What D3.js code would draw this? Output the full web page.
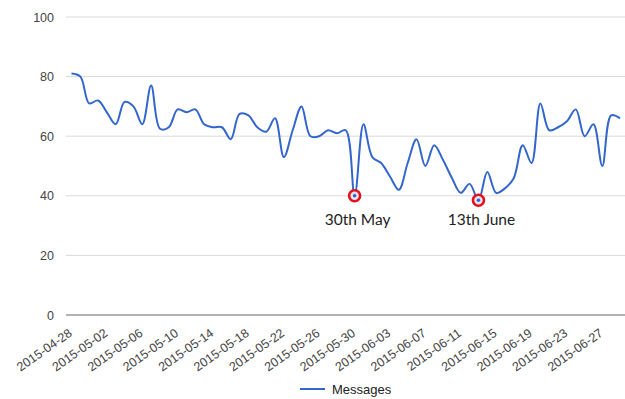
<!DOCTYPE html>
<html>
<head>
<meta charset="utf-8">
<script src="https://cdn.jsdelivr.net/npm/d3@7"></script>
<style>
  html, body { margin: 0; padding: 0; background: #fff; }
  svg { display: block; }
</style>
</head>
<body>
<svg id="chart" width="625" height="399"></svg>
<script>
// Daily message counts, starting 2015-04-28
const startDate = "2015-04-28";
const messages = [
  81, 80, 71, 72, 68, 64, 71.5, 70, 64, 77,
  62.5, 63, 69, 68, 69, 64, 63, 63, 59, 67.5,
  67, 63, 61.5, 66, 53, 62, 70, 60, 60, 62,
  61, 62, 40, 64, 53, 51, 46.5, 42, 51, 59,
  50, 57, 52, 46, 41, 44, 38.5, 48, 41, 42.5,
  46, 57, 51, 71, 62, 63, 65, 69, 60, 64,
  50, 67, 66
];
const tickLabels = [
  "2015-04-28", "2015-05-02", "2015-05-06", "2015-05-10", "2015-05-14",
  "2015-05-18", "2015-05-22", "2015-05-26", "2015-05-30", "2015-06-03",
  "2015-06-07", "2015-06-11", "2015-06-15", "2015-06-19", "2015-06-23",
  "2015-06-27"
];
const yTicks = [0, 20, 40, 60, 80, 100];
const annotations = [
  { date: "2015-05-30", text: "30th May" },
  { date: "2015-06-13", text: "13th June" }
];
const seriesName = "Messages";

const parse = d3.utcParse("%Y-%m-%d");
const t0 = parse(startDate);
const data = messages.map((v, i) => ({ date: d3.utcDay.offset(t0, i), value: v }));
const byTime = new Map(data.map(d => [+d.date, d]));

const svg = d3.select("#chart");
const plotLeft = 66, plotRight = 625, plotTop = 17, plotBottom = 315;

const x = d3.scaleUtc()
  .domain(d3.extent(data, d => d.date))
  .range([71.5, 620]);
const y = d3.scaleLinear().domain([0, 100]).range([plotBottom, plotTop]);

const font = "Arial, 'Liberation Sans', sans-serif";

// horizontal gridlines
svg.append("g")
  .selectAll("line")
  .data(yTicks.filter(v => v !== 0))
  .join("line")
  .attr("x1", plotLeft).attr("x2", plotRight)
  .attr("y1", d => y(d)).attr("y2", d => y(d))
  .attr("stroke", "#d9d9d9").attr("stroke-width", 1);

// y axis labels
const yAxis = d3.axisLeft(y).tickValues(yTicks).tickSize(0).tickPadding(12);
const gy = svg.append("g").attr("transform", `translate(${plotLeft},0)`).call(yAxis);
gy.select(".domain").remove();
gy.selectAll("text")
  .attr("font-family", font).attr("font-size", 12.5).attr("fill", "#444");

// baseline
svg.append("line")
  .attr("x1", plotLeft).attr("x2", plotRight)
  .attr("y1", y(0)).attr("y2", y(0))
  .attr("stroke", "#666").attr("stroke-width", 1.2);

// x axis: rotated date labels
const xAxis = d3.axisBottom(x)
  .tickValues(tickLabels.map(parse))
  .tickSize(0)
  .tickFormat(d3.utcFormat("%Y-%m-%d"));
const gx = svg.append("g").attr("transform", `translate(0,${plotBottom})`).call(xAxis);
gx.select(".domain").remove();
gx.selectAll("text")
  .attr("font-family", font).attr("font-size", 12.5).attr("fill", "#444")
  .attr("text-anchor", "end")
  .attr("dy", 0)
  .attr("y", 0)
  .attr("transform", "translate(1,20) rotate(-35)");

// series line
const line = d3.line()
  .x(d => x(d.date))
  .y(d => y(d.value))
  .curve(d3.curveCatmullRom.alpha(0.5));

svg.append("path")
  .datum(data)
  .attr("fill", "none")
  .attr("stroke", "#3366cc")
  .attr("stroke-width", 2)
  .attr("stroke-linejoin", "round")
  .attr("d", line);

// annotated low points
const ann = svg.append("g");
annotations.forEach(a => {
  const d = byTime.get(+parse(a.date));
  const cx = x(d.date), cy = y(d.value);
  ann.append("circle")
    .attr("cx", cx).attr("cy", cy).attr("r", 5.5)
    .attr("fill", "#e9e4f2").attr("fill-opacity", 0.9)
    .attr("stroke", "#e3121b").attr("stroke-width", 2.6);
  ann.append("circle")
    .attr("cx", cx).attr("cy", cy).attr("r", 1.8)
    .attr("fill", "#3366cc");
  ann.append("text")
    .attr("x", cx + 3).attr("y", 225)
    .attr("text-anchor", "middle")
    .attr("font-family", "Lato, 'Open Sans', sans-serif")
    .attr("font-size", 15.5)
    .attr("fill", "#222")
    .text(a.text);
});

// legend
const lg = svg.append("g").attr("transform", "translate(300,389)");
lg.append("line").attr("x1", 0).attr("x2", 25).attr("y1", 0).attr("y2", 0)
  .attr("stroke", "#3366cc").attr("stroke-width", 2);
lg.append("text").attr("x", 32).attr("y", 4.5)
  .attr("font-family", font).attr("font-size", 13).attr("fill", "#222")
  .text(seriesName);
</script>
</body>
</html>
